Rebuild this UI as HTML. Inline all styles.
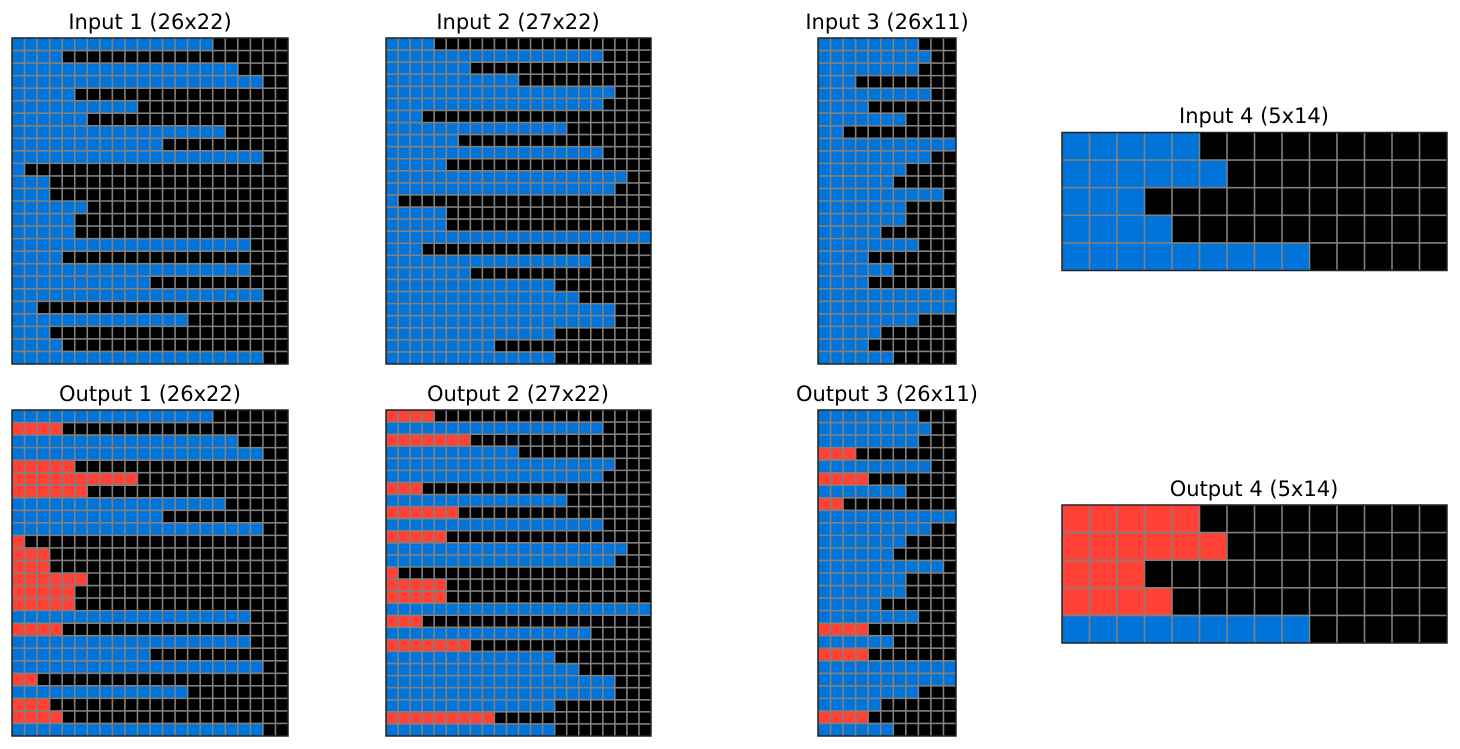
<!DOCTYPE html>
<html><head><meta charset="utf-8"><style>
html,body{margin:0;padding:0;background:#fff;width:1460px;height:749px;overflow:hidden}
svg{position:absolute;left:0;top:0}
text{font-family:"DejaVu Sans","Liberation Sans",sans-serif;font-size:21px;fill:#000;text-anchor:middle}
</style></head><body>
<svg id="s" width="1460" height="749" xmlns="http://www.w3.org/2000/svg">
<text x="150" y="29">Input 1 (26x22)</text>
<text x="518" y="29">Input 2 (27x22)</text>
<text x="887" y="29">Input 3 (26x11)</text>
<text x="1254" y="123">Input 4 (5x14)</text>
<text x="150" y="401">Output 1 (26x22)</text>
<text x="518" y="401">Output 2 (27x22)</text>
<text x="887" y="401">Output 3 (26x11)</text>
<text x="1254" y="496">Output 4 (5x14)</text>
</svg>
<script>
var s=document.getElementById('s'),NS='http://www.w3.org/2000/svg';
function R(x,y,w,h,f,st,sw){var r=document.createElementNS(NS,'rect');r.setAttribute('x',x);r.setAttribute('y',y);r.setAttribute('width',w);r.setAttribute('height',h);r.setAttribute('fill',f);if(st){r.setAttribute('stroke',st);r.setAttribute('stroke-width',sw);}s.appendChild(r);}
function L(x1,y1,x2,y2){var l=document.createElementNS(NS,'line');l.setAttribute('x1',x1);l.setAttribute('y1',y1);l.setAttribute('x2',x2);l.setAttribute('y2',y2);l.setAttribute('stroke','#808080');l.setAttribute('stroke-width','1.6');s.appendChild(l);}
function grid(x0,y0,x1,y1,cols,lens,red){
 var rows=lens.length,cw=(x1-x0)/cols,ch=(y1-y0)/rows;
 R(x0,y0,x1-x0,y1-y0,'#000');
 for(var i=0;i<rows;i++){var c=(red&&red.indexOf(i)>=0)?'#FF4136':'#0074D9';R(x0,y0+i*ch,lens[i]*cw,ch,c);}
 for(var j=1;j<cols;j++)L(x0+j*cw,y0,x0+j*cw,y1);
 for(var i=1;i<rows;i++)L(x0,y0+i*ch,x1,y0+i*ch);
 R(x0,y0,x1-x0,y1-y0,'none','#222','1.5');
}
var g1=[16,4,18,20,5,10,6,17,12,20,1,3,3,6,5,5,19,4,19,11,20,2,14,3,4,20];
var g2=[4,18,7,11,19,18,3,15,6,18,5,20,19,1,5,5,22,3,17,7,14,16,19,19,14,9,14];
var g3=[8,9,8,3,9,4,7,2,11,9,7,6,10,7,7,5,8,4,6,4,11,11,8,5,4,6];
var g4=[5,6,3,4,9];
grid(12,38,288,364,22,g1);
grid(386,38,651,364,22,g2);
grid(818,38,956,364,11,g3);
grid(1062,132.5,1447,270.5,14,g4);
grid(12,410,288,736,22,g1,[1,4,5,6,10,11,12,13,14,15,17,21,23,24]);
grid(386,410,651,736,22,g2,[0,2,6,8,10,13,14,15,17,19,25]);
grid(818,410,956,736,11,g3,[3,5,7,17,19,24]);
grid(1062,505,1447,643,14,g4,[0,1,2,3]);
</script>
</body></html>
